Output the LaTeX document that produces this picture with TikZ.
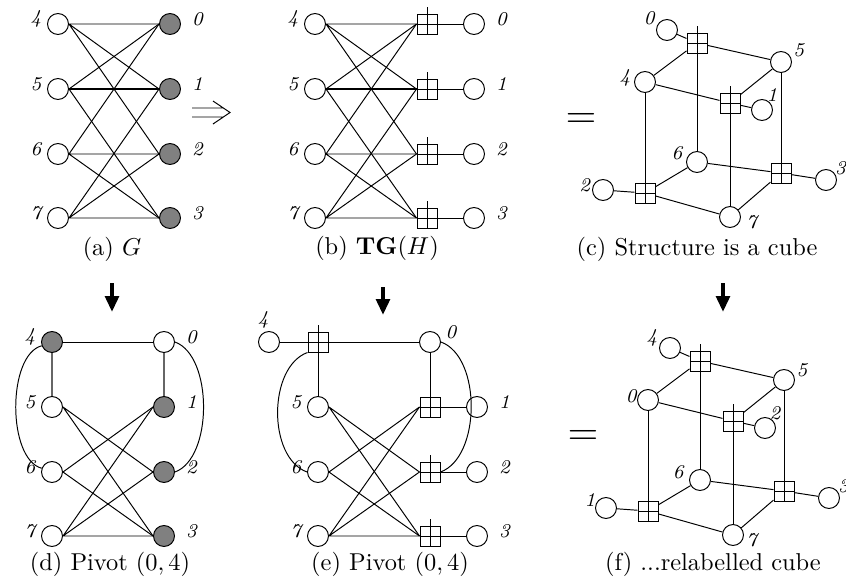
\documentclass[tikz,border=0pt]{standalone}
\usepackage{amsmath, amssymb}
\usetikzlibrary{arrows.meta}

\tikzset{
  vtx/.style={draw, circle, thin, minimum size=8.6pt, inner sep=0pt},
  hvtx/.style={vtx, fill=gray},
  lbl/.style={font=\footnotesize\itshape, inner sep=0.5pt, anchor=center},
  ll/.style={label={[lbl, label distance=4.7pt]168:#1}},
  rl/.style={label={[lbl, label distance=6.9pt]10:#1}},
  qbox/.style={draw, thin, rectangle, minimum size=8.2pt, inner sep=0pt,
    path picture={\draw[thin] (path picture bounding box.north) -- (path picture bounding box.south)
      (path picture bounding box.west) -- (path picture bounding box.east);},
    append after command={(\tikzlastnode.north) edge[thin] ([yshift=2.5pt]\tikzlastnode.north)}},
  gedge/.style={black!60, semithick},
  downarr/.style={line width=2pt, -{Triangle[length=6.5pt, width=5.5pt]}},
}

\begin{document}
\begin{tikzpicture}[x=0.0144cm, y=-0.0144cm, thin]
\useasboundingbox (0,0) rectangle (846,580);

\begin{scope}
        % (a) left column
        \node[vtx, ll=4] (L4) at (58, 24) {};
        \node[vtx, ll=5] (L5) at (58, 89) {};
        \node[vtx, ll=6] (L6) at (58, 154) {};
        \node[vtx, ll=7] (L7) at (58, 218) {};

        % (a) right column, shaded
        \node[hvtx, rl=0] (R0) at (170, 24) {};
        \node[hvtx, rl=1] (R1) at (170, 89) {};
        \node[hvtx, rl=2] (R2) at (170, 154) {};
        \node[hvtx, rl=3] (R3) at (170, 218) {};

        % edges of G
        \draw (L4.east) -- (R0.west) (L4.east) -- (R1.west) (L4.east) -- (R2.west);
        \draw (L5.east) -- (R0.west) (L5.east) -- (R3.west);
        \draw[semithick] (L5.east) -- (R1.west);
        \draw (L6.east) -- (R0.west) (L6.east) -- (R2.west) (L6.east) -- (R3.west);
        \draw (L7.east) -- (R1.west) (L7.east) -- (R2.west) (L7.east) -- (R3.west);

        \node (capa) at (112, 249) {(a) $G$};
\end{scope}

        % implies
        \coordinate (I1) at (192, 108);
        \coordinate (I2) at (223, 108);
        \coordinate (I3) at (192, 117);
        \coordinate (I4) at (223, 117);
        \coordinate (T1) at (213, 101);
        \coordinate (T2) at (230, 112.5);
        \coordinate (T3) at (213, 124);
        \draw (I1) -- (I2) (I3) -- (I4) (T1) -- (T2) -- (T3);

\begin{scope}
        % (b) left column
        \node[vtx, ll=4] (L4) at (315, 24) {};
        \node[vtx, ll=5] (L5) at (315, 89) {};
        \node[vtx, ll=6] (L6) at (315, 154) {};
        \node[vtx, ll=7] (L7) at (315, 218) {};

        % boxes
        \node[qbox] (B0) at (427, 24) {};
        \node[qbox] (B1) at (427, 89) {};
        \node[qbox] (B2) at (427, 154) {};
        \node[qbox] (B3) at (427, 218) {};

        % right column
        \node[vtx, rl=0] (R0) at (474, 24) {};
        \node[vtx, rl=1] (R1) at (474, 89) {};
        \node[vtx, rl=2] (R2) at (474, 154) {};
        \node[vtx, rl=3] (R3) at (474, 218) {};

        \draw (L4.east) -- (B0.west) (L4.east) -- (B1.west) (L4.east) -- (B2.west);
        \draw (L5.east) -- (B0.west) (L5.east) -- (B3.west);
        \draw[semithick] (L5.east) -- (B1.west);
        \draw (L6.east) -- (B0.west) (L6.east) -- (B2.west) (L6.east) -- (B3.west);
        \draw (L7.east) -- (B1.west) (L7.east) -- (B2.west) (L7.east) -- (B3.west);
        \draw (B0) -- (R0) (B1) -- (R1) (B2) -- (R2) (B3) -- (R3);

        \node (capb) at (377, 248) {(b) $\mathbf{TG}(H)$};
\end{scope}

\begin{scope}
        \node (eqc) at (581, 121) {\LARGE $=$};

        % cube vertices
        \node[qbox] (K0) at (697, 43) {};
        \node[qbox] (K1) at (730, 103) {};
        \node[qbox] (K2) at (645, 193) {};
        \node[qbox] (K3) at (781, 173) {};
        \node[vtx, label={[lbl, label distance=4.3pt]146:0}] (C0) at (667, 30) {};
        \node[vtx, label={[lbl, label distance=4.3pt]34:5}] (C5) at (781, 62) {};
        \node[vtx, label={[lbl, label distance=3.9pt]169:4}] (C4) at (645, 82) {};
        \node[vtx, label={[lbl, label distance=2.9pt]56:1}] (C1) at (762, 110) {};
        \node[vtx, label={[lbl, label distance=4.5pt]156:6}] (C6) at (697, 162) {};
        \node[vtx, label={[lbl, label distance=3.3pt]40:3}] (C3) at (826, 180) {};
        \node[vtx, label={[lbl, label distance=3.2pt]165:2}] (C2) at (603, 190) {};
        \node[vtx, label={[lbl, label distance=4.6pt]-13:7}] (C7) at (730, 217) {};

        % top face
        \draw (K0) -- (C5) -- (K1) -- (C4) -- (K0);
        % bottom face
        \draw (C6) -- (K3) -- (C7) -- (K2) -- (C6);
        % vertical edges
        \draw (C6) -- (K0) (C4) -- (K2) (C7) -- (K1) (C5) -- (K3);
        % leaves
        \draw (K0) -- (C0) (K1) -- (C1) (K2) -- (C2) (K3) -- (C3);

        \node (capc) at (697, 249) {(c) Structure is a cube};
\end{scope}

        % pivot arrows
        \coordinate (P1) at (112, 283);
        \coordinate (P2) at (112, 312);
        \coordinate (P3) at (383, 287);
        \coordinate (P4) at (383, 315);
        \coordinate (P5) at (723, 283);
        \coordinate (P6) at (723, 312);
        \draw[downarr] (P1) -- (P2);
        \draw[downarr] (P3) -- (P4);
        \draw[downarr] (P5) -- (P6);

\begin{scope}[shift={(-6, 318)}]
        % (d) after the pivot
        \node[hvtx, ll=4] (N4) at (58, 24) {};
        \node[vtx, ll=5] (N5) at (58, 89) {};
        \node[vtx, ll=6] (N6) at (58, 154) {};
        \node[vtx, ll=7] (N7) at (58, 218) {};
        \node[vtx, rl=0] (N0) at (170, 24) {};
        \node[hvtx, rl=1] (N1) at (170, 89) {};
        \node[hvtx, rl=2] (N2) at (170, 154) {};
        \node[hvtx, rl=3] (N3) at (170, 218) {};

        \draw (N4) -- (N0);
        \draw[gedge] (N4) -- (N5) (N0) -- (N1);
        \draw (N5.east) -- (N2.west) (N5.east) -- (N3.west);
        \draw (N6.east) -- (N1.west) (N6.east) -- (N3.west);
        \draw (N7.east) -- (N1.west) (N7.east) -- (N2.west) (N7.east) -- (N3.west);
        \draw (N4.200) to[out=195, in=165, looseness=0.75] (N6.160);
        \draw (N0.east) to[out=-20, in=20, looseness=0.8] (N2.east);

        \node (capd) at (116, 246) {(d) Pivot $(0,4)$};
\end{scope}

\begin{scope}[shift={(3, 318)}]
        % (e) the pivoted triangle graph
        \node[vtx, label={[lbl, label distance=4.8pt]105:4}] (E4) at (266, 24) {};
        \node[qbox] (F4) at (315, 24) {};
        \node[vtx, ll=5] (E5) at (315, 89) {};
        \node[vtx, ll=6] (E6) at (315, 154) {};
        \node[vtx, ll=7] (E7) at (315, 218) {};
        \node[vtx, label={[lbl, label distance=5pt]25:0}] (E0) at (427, 24) {};
        \node[qbox] (F1) at (427, 89) {};
        \node[qbox] (F2) at (427, 154) {};
        \node[qbox] (F3) at (427, 218) {};
        \node[vtx, rl=1] (E1) at (474, 89) {};
        \node[vtx, rl=2] (E2) at (474, 154) {};
        \node[vtx, rl=3] (E3) at (474, 218) {};

        \draw (E4) -- (F4) -- (E0);
        \draw (F4) -- (E5) (E0) -- (F1);
        \draw (F1) -- (E1) (F2) -- (E2) (F3) -- (E3);
        \draw (E5.east) -- (F2.west) (E5.east) -- (F3.west);
        \draw (E6.east) -- (F1.west) (E6.east) -- (F3.west);
        \draw (E7.east) -- (F1.west) (E7.east) -- (F2.west) (E7.east) -- (F3.west);
        \draw (F4.south west) to[out=200, in=160, looseness=0.9] (E6.west);
        \draw (E0.east) to[out=-20, in=20, looseness=0.85] (F2.east);

        \node (cape) at (387, 246) {(e) Pivot $(0,4)$};
\end{scope}

\begin{scope}[shift={(3, 318)}]
        \node (eqf) at (580, 120) {\LARGE $=$};

        % relabelled cube
        \node[qbox] (K0) at (697, 43) {};
        \node[qbox] (K1) at (730, 103) {};
        \node[qbox] (K2) at (645, 193) {};
        \node[qbox] (K3) at (781, 173) {};
        \node[vtx, label={[lbl, label distance=3.9pt]151:4}] (C0) at (667, 30) {};
        \node[vtx, label={[lbl, label distance=3.9pt]29:5}] (C5) at (781, 62) {};
        \node[vtx, label={[lbl, label distance=2.6pt]166:0}] (C4) at (645, 82) {};
        \node[vtx, label={[lbl, label distance=2.9pt]56:2}] (C1) at (762, 110) {};
        \node[vtx, label={[lbl, label distance=5pt]160:6}] (C6) at (697, 162) {};
        \node[vtx, label={[lbl, label distance=3.3pt]40:3}] (C3) at (826, 180) {};
        \node[vtx, label={[lbl, label distance=2.9pt]153:1}] (C2) at (603, 190) {};
        \node[vtx, label={[lbl, label distance=3.5pt]-15:7}] (C7) at (730, 217) {};

        \draw (K0) -- (C5) -- (K1) -- (C4) -- (K0);
        \draw (C6) -- (K3) -- (C7) -- (K2) -- (C6);
        \draw (C6) -- (K0) (C4) -- (K2) (C7) -- (K1) (C5) -- (K3);
        \draw (K0) -- (C0) (K1) -- (C1) (K2) -- (C2) (K3) -- (C3);

        \node (capf) at (710, 246) {(f) ...relabelled cube};
\end{scope}
\end{tikzpicture}
\end{document}
